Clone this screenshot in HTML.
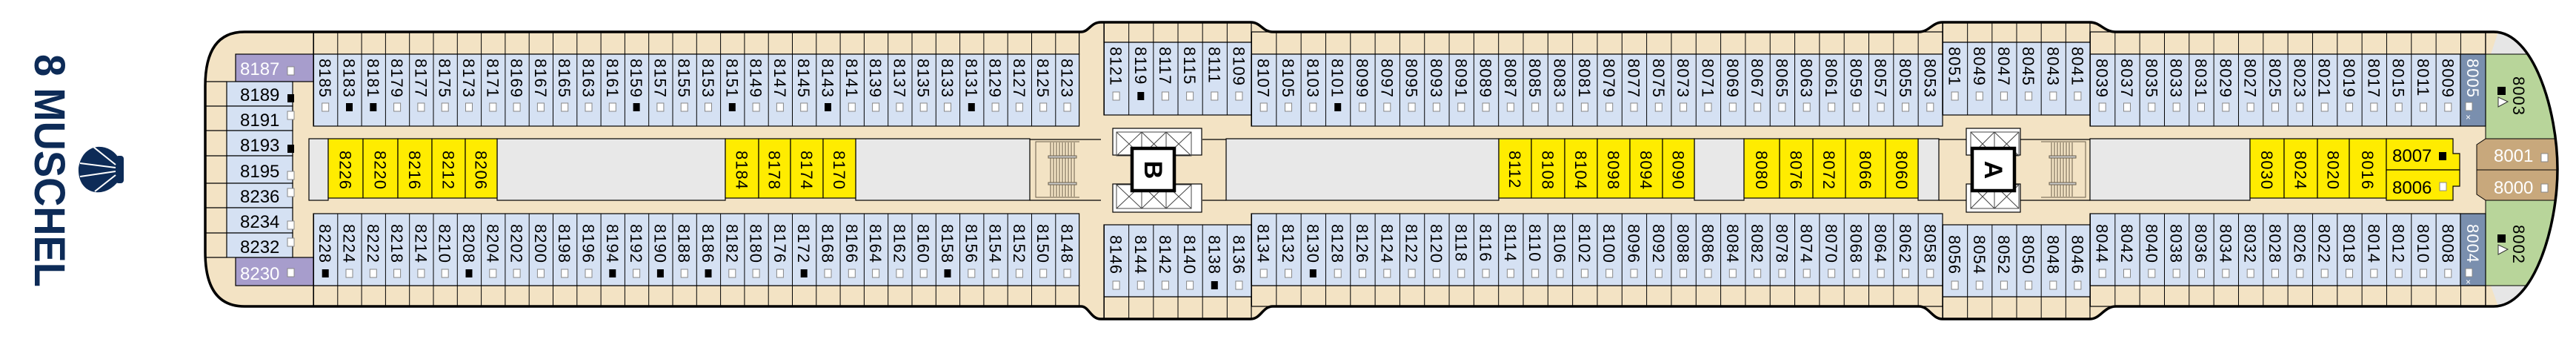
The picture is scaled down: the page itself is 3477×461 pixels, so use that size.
<!DOCTYPE html>
<html><head><meta charset="utf-8"><style>
html,body{margin:0;padding:0;background:#fff}
svg{display:block}
.t text{font-family:"Liberation Sans",sans-serif;font-size:22px;letter-spacing:1px;fill:#000}
.h text{font-family:"Liberation Sans",sans-serif;font-size:24px;fill:#000}
.w{fill:#fff;stroke:#888;stroke-width:1}
.k{fill:#000}
.ln{stroke:#000;stroke-width:1.2}
</style></head><body>
<svg width="3477" height="461" viewBox="0 0 3477 461" xmlns="http://www.w3.org/2000/svg">
<defs>
<pattern id="b1" x="423" y="0" width="32.3" height="20" patternUnits="userSpaceOnUse"><rect width="32.3" height="20" fill="#d5e1f3"/><line x1="0.5" y1="0" x2="0.5" y2="20" stroke="#000"/></pattern>
<pattern id="g1" x="423" y="0" width="32.3" height="20" patternUnits="userSpaceOnUse"><rect width="32.3" height="20" fill="#f3e3c4"/><line x1="0.5" y1="0" x2="0.5" y2="20" stroke="#000"/></pattern>
<pattern id="bB" x="1490" y="0" width="33.17" height="20" patternUnits="userSpaceOnUse"><rect width="33.17" height="20" fill="#d5e1f3"/><line x1="0.5" y1="0" x2="0.5" y2="20" stroke="#000"/></pattern>
<pattern id="gB" x="1490" y="0" width="33.17" height="20" patternUnits="userSpaceOnUse"><rect width="33.17" height="20" fill="#f3e3c4"/><line x1="0.5" y1="0" x2="0.5" y2="20" stroke="#000"/></pattern>
<pattern id="bM" x="1689" y="0" width="33.32" height="20" patternUnits="userSpaceOnUse"><rect width="33.32" height="20" fill="#d5e1f3"/><line x1="0.5" y1="0" x2="0.5" y2="20" stroke="#000"/></pattern>
<pattern id="gM" x="1689" y="0" width="33.32" height="20" patternUnits="userSpaceOnUse"><rect width="33.32" height="20" fill="#f3e3c4"/><line x1="0.5" y1="0" x2="0.5" y2="20" stroke="#000"/></pattern>
<pattern id="bA" x="2622" y="0" width="33.17" height="20" patternUnits="userSpaceOnUse"><rect width="33.17" height="20" fill="#d5e1f3"/><line x1="0.5" y1="0" x2="0.5" y2="20" stroke="#000"/></pattern>
<pattern id="gA" x="2622" y="0" width="33.17" height="20" patternUnits="userSpaceOnUse"><rect width="33.17" height="20" fill="#f3e3c4"/><line x1="0.5" y1="0" x2="0.5" y2="20" stroke="#000"/></pattern>
<pattern id="bR" x="2821" y="0" width="33.33" height="20" patternUnits="userSpaceOnUse"><rect width="33.33" height="20" fill="#d5e1f3"/><line x1="0.5" y1="0" x2="0.5" y2="20" stroke="#000"/></pattern>
<pattern id="gR" x="2821" y="0" width="33.33" height="20" patternUnits="userSpaceOnUse"><rect width="33.33" height="20" fill="#f3e3c4"/><line x1="0.5" y1="0" x2="0.5" y2="20" stroke="#000"/></pattern>
<clipPath id="hull"><path d="M330,43 L1459,43 C1470,43 1472,30 1486,30 L1688,30 C1702,30 1704,43 1718,43 L2590,43 C2604,43 2608,30 2622,30 L2821,30 C2835,30 2840,43 2856,43 L3366,43 C3420,43 3452,150 3452,228 C3452,306 3420,413 3366,413 L2856,413 C2840,413 2835,430 2821,430 L2622,430 C2608,430 2604,413 2590,413 L1718,413 C1704,413 1702,430 1688,430 L1486,430 C1472,430 1470,413 1459,413 L330,413 C292,413 277,385 277,340 L277,116 C277,71 292,43 330,43 Z"/></clipPath>
</defs>

<!-- Logo -->
<text transform="translate(47,73) rotate(90)" y="0" textLength="314" lengthAdjust="spacingAndGlyphs" style="font-family:'Liberation Sans',sans-serif;font-weight:bold;font-size:58px;fill:#0d2b57">8 MUSCHEL</text>
<g fill="#0d2b57">
<path d="M160,213 C148,192 112,190 106,226 C104,262 140,270 160,244 Z"/>
<rect x="156" y="210" width="11" height="37" rx="4"/>
</g>
<g stroke="#fff" stroke-width="2" fill="none">
<path d="M156,222 L126,198"/><path d="M156,226 L108,220"/><path d="M156,231 L108,238"/><path d="M156,236 L128,258"/>
</g>

<!-- Hull -->
<path d="M330,43 L1459,43 C1470,43 1472,30 1486,30 L1688,30 C1702,30 1704,43 1718,43 L2590,43 C2604,43 2608,30 2622,30 L2821,30 C2835,30 2840,43 2856,43 L3366,43 C3420,43 3452,150 3452,228 C3452,306 3420,413 3366,413 L2856,413 C2840,413 2835,430 2821,430 L2622,430 C2608,430 2604,413 2590,413 L1718,413 C1704,413 1702,430 1688,430 L1486,430 C1472,430 1470,413 1459,413 L330,413 C292,413 277,385 277,340 L277,116 C277,71 292,43 330,43 Z" fill="#f3e3c4"/>

<g clip-path="url(#hull)">
<polygon points="3372,43 3362,73 3470,73 3470,43" fill="#e6e6e6"/>
<polygon points="3372,413 3362,385 3470,385 3470,413" fill="#e6e6e6"/>
<rect x="3355" y="73" width="120" height="114" fill="#b8d59a" stroke="#000"/>
<rect x="3355" y="270" width="120" height="115" fill="#b8d59a" stroke="#000"/>
<path d="M3343,195 L3355,187 L3475,187 L3475,270 L3355,270 L3343,262 Z" fill="#c8a87c" stroke="#000"/>
<line x1="3343" y1="229" x2="3475" y2="229" stroke="#000"/>
</g>

<!-- balconies -->
<rect x="423" y="43" width="1033.6" height="30" fill="url(#g1)" class="ln"/>
<rect x="423" y="385" width="1033.6" height="28" fill="url(#g1)" class="ln"/>
<rect x="1490" y="30" width="199" height="27" fill="url(#gB)" class="ln"/>
<rect x="1490" y="400" width="199" height="30" fill="url(#gB)" class="ln"/>
<rect x="1689" y="43" width="933" height="30" fill="url(#gM)" class="ln"/>
<rect x="1689" y="385" width="933" height="28" fill="url(#gM)" class="ln"/>
<rect x="2622" y="30" width="199" height="27" fill="url(#gA)" class="ln"/>
<rect x="2622" y="400" width="199" height="30" fill="url(#gA)" class="ln"/>
<rect x="2821" y="43" width="534" height="30" fill="url(#gR)" class="ln"/>
<rect x="2821" y="385" width="534" height="28" fill="url(#gR)" class="ln"/>

<!-- cabin blocks -->
<rect x="423" y="73" width="1033.6" height="97" fill="url(#b1)" class="ln"/>
<rect x="423" y="288" width="1033.6" height="97" fill="url(#b1)" class="ln"/>
<rect x="1490" y="57" width="199" height="98" fill="url(#bB)" class="ln"/>
<rect x="1490" y="303" width="199" height="97" fill="url(#bB)" class="ln"/>
<rect x="1689" y="73" width="933" height="97" fill="url(#bM)" class="ln"/>
<rect x="1689" y="288" width="933" height="97" fill="url(#bM)" class="ln"/>
<rect x="2622" y="57" width="199" height="98" fill="url(#bA)" class="ln"/>
<rect x="2622" y="303" width="199" height="97" fill="url(#bA)" class="ln"/>
<rect x="2821" y="73" width="500" height="97" fill="url(#bR)" class="ln"/>
<rect x="2821" y="288" width="500" height="97" fill="url(#bR)" class="ln"/>
<rect x="3321" y="73" width="34" height="97" fill="#7a8fae" class="ln"/>
<rect x="3321" y="288" width="34" height="97" fill="#7a8fae" class="ln"/>

<!-- left stern -->
<g class="ln">
<line x1="277" y1="110" x2="306" y2="110"/><line x1="277" y1="143" x2="306" y2="143"/><line x1="277" y1="176" x2="306" y2="176"/><line x1="277" y1="210" x2="306" y2="210"/><line x1="277" y1="247" x2="306" y2="247"/><line x1="277" y1="280" x2="306" y2="280"/><line x1="277" y1="314" x2="306" y2="314"/><line x1="277" y1="347" x2="306" y2="347"/>
</g>
<rect x="318" y="73" width="105" height="37" fill="#a79dcc" class="ln"/>
<rect x="318" y="347" width="105" height="38" fill="#a79dcc" class="ln"/>
<g fill="#d5e1f3" class="ln">
<rect x="306" y="110" width="89" height="33"/><rect x="306" y="143" width="89" height="33"/><rect x="306" y="176" width="89" height="34"/><rect x="306" y="210" width="89" height="37"/><rect x="306" y="247" width="89" height="33"/><rect x="306" y="280" width="89" height="34"/><rect x="306" y="314" width="89" height="33"/>
</g>
<g class="h">
<text x="324" y="101" style="fill:#fff">8187</text>
<text x="324" y="136">8189</text><text x="324" y="170">8191</text><text x="324" y="204">8193</text><text x="324" y="239">8195</text><text x="324" y="273">8236</text><text x="324" y="307">8234</text><text x="324" y="341">8232</text>
<text x="324" y="377" style="fill:#fff">8230</text>
</g>
<rect class="w" x="388" y="90" width="9" height="11"/><rect class="k" x="388" y="127" width="9" height="11"/><rect class="w" x="388" y="150" width="9" height="11"/><rect class="k" x="388" y="195" width="9" height="11"/><rect class="w" x="388" y="231" width="9" height="11"/><rect class="w" x="388" y="254" width="9" height="11"/><rect class="w" x="388" y="298" width="9" height="11"/><rect class="w" x="388" y="321" width="9" height="11"/><rect class="w" x="388" y="362" width="9" height="11"/>

<!-- center blocks -->
<g stroke="#000" stroke-width="1.2">
<rect x="417" y="187" width="26" height="83" fill="#e8e8e8"/>
<rect x="671" y="187" width="308" height="83" fill="#e8e8e8"/>
<rect x="1155" y="187" width="235" height="83" fill="#e8e8e8"/>
<rect x="1655" y="187" width="368" height="83" fill="#e8e8e8"/>
<rect x="2287" y="187" width="67" height="83" fill="#e8e8e8"/>
<rect x="2589" y="187" width="28" height="83" fill="#e8e8e8"/>
<rect x="2821" y="187" width="216" height="83" fill="#e8e8e8"/>
<g fill="#ffec00">
<rect x="443" y="187" width="47" height="80"/><rect x="490" y="187" width="47" height="80"/><rect x="537" y="187" width="46" height="80"/><rect x="583" y="187" width="45" height="80"/><rect x="628" y="187" width="43" height="80"/>
<rect x="979" y="187" width="45" height="80"/><rect x="1024" y="187" width="43" height="80"/><rect x="1067" y="187" width="44" height="80"/><rect x="1111" y="187" width="44" height="80"/>
<rect x="2023" y="187" width="44" height="80"/><rect x="2067" y="187" width="45" height="80"/><rect x="2112" y="187" width="44" height="80"/><rect x="2156" y="187" width="44" height="80"/><rect x="2200" y="187" width="44" height="80"/><rect x="2244" y="187" width="43" height="80"/>
<rect x="2354" y="187" width="48" height="80"/><rect x="2402" y="187" width="45" height="80"/><rect x="2447" y="187" width="44" height="80"/><rect x="2491" y="187" width="54" height="80"/><rect x="2545" y="187" width="44" height="80"/>
<rect x="3037" y="187" width="46" height="80"/><rect x="3083" y="187" width="45" height="80"/><rect x="3128" y="187" width="43" height="80"/><rect x="3171" y="187" width="50" height="80"/>
<path d="M3221,187 L3311,187 L3311,207 L3320,207 L3320,229 L3221,229 Z"/>
<path d="M3221,229 L3320,229 L3320,251 L3311,251 L3311,270 L3221,270 Z"/>
</g>
<line x1="1390" y1="188" x2="1486" y2="188"/><line x1="1390" y1="270" x2="1486" y2="270"/>
<line x1="1623" y1="188" x2="1655" y2="188"/><line x1="1623" y1="270" x2="1655" y2="270"/>
<line x1="2617" y1="188" x2="2654" y2="188"/><line x1="2617" y1="270" x2="2654" y2="270"/>
<line x1="2727" y1="188" x2="2821" y2="188"/><line x1="2727" y1="270" x2="2821" y2="270"/>
</g>

<!-- stairs -->
<g stroke="#6a5e4a" stroke-width="1" fill="none">
<path d="M1457,191 L1398,191 L1398,266 L1457,266"/>
<path d="M1418,192 V265 M1422,192 V265 M1426,192 V265 M1430,192 V265 M1434,192 V265 M1438,192 V265 M1442,192 V265 M1446,192 V265 M1450,192 V265"/>
<rect x="1415" y="210" width="38" height="3" fill="#ccc"/><rect x="1415" y="246" width="38" height="3" fill="#ccc"/>
<path d="M2755,191 L2815,191 L2815,266 L2755,266"/>
<path d="M2769,192 V265 M2773,192 V265 M2777,192 V265 M2781,192 V265 M2785,192 V265 M2789,192 V265 M2793,192 V265 M2797,192 V265"/>
<rect x="2766" y="210" width="36" height="3" fill="#ccc"/><rect x="2766" y="246" width="36" height="3" fill="#ccc"/>
</g>

<!-- elevators -->
<g stroke="#000" stroke-width="1.2" fill="#fff">
<rect x="1502" y="173" width="120" height="36"/><rect x="1502" y="248" width="120" height="38"/>
<rect x="2654" y="173" width="73" height="36"/><rect x="2654" y="248" width="73" height="38"/>
</g>
<g stroke="#444" stroke-width="1" fill="none">
<rect x="1507" y="178" width="101" height="32"/><rect x="1507" y="249" width="101" height="32"/>
<path d="M1541,178 V210 M1574,178 V210 M1541,249 V281 M1574,249 V281"/>
<path d="M1507,178 L1541,210 M1541,178 L1507,210 M1541,178 L1574,210 M1574,178 L1541,210 M1574,178 L1608,210 M1608,178 L1574,210"/>
<path d="M1507,249 L1541,281 M1541,249 L1507,281 M1541,249 L1574,281 M1574,249 L1541,281 M1574,249 L1608,281 M1608,249 L1574,281"/>
<rect x="2660" y="178" width="65" height="32"/><rect x="2660" y="249" width="65" height="32"/>
<path d="M2692,178 V210 M2692,249 V281"/>
<path d="M2660,178 L2692,210 M2692,178 L2660,210 M2692,178 L2725,210 M2725,178 L2692,210"/>
<path d="M2660,249 L2692,281 M2692,249 L2660,281 M2692,249 L2725,281 M2725,249 L2692,281"/>
</g>
<rect x="1528" y="200" width="57" height="57" fill="#fff" stroke="#000" stroke-width="4.5"/>
<rect x="2662" y="200" width="57" height="57" fill="#fff" stroke="#000" stroke-width="4.5"/>
<text transform="translate(1545,229) rotate(90)" y="0" text-anchor="middle" style="font-family:'Liberation Sans',sans-serif;font-size:34px;font-weight:bold">B</text>
<text transform="translate(2679,229) rotate(90)" y="0" text-anchor="middle" style="font-family:'Liberation Sans',sans-serif;font-size:34px;font-weight:bold">A</text>

<!-- labels -->
<g class="t">
<text transform="translate(439.2,79)rotate(90)" y="8">8185</text><text transform="translate(471.5,79)rotate(90)" y="8">8183</text><text transform="translate(503.8,79)rotate(90)" y="8">8181</text><text transform="translate(536.1,79)rotate(90)" y="8">8179</text><text transform="translate(568.4,79)rotate(90)" y="8">8177</text><text transform="translate(600.7,79)rotate(90)" y="8">8175</text><text transform="translate(633,79)rotate(90)" y="8">8173</text><text transform="translate(665.3,79)rotate(90)" y="8">8171</text><text transform="translate(697.6,79)rotate(90)" y="8">8169</text><text transform="translate(729.9,79)rotate(90)" y="8">8167</text><text transform="translate(762.2,79)rotate(90)" y="8">8165</text><text transform="translate(794.5,79)rotate(90)" y="8">8163</text><text transform="translate(826.8,79)rotate(90)" y="8">8161</text><text transform="translate(859.1,79)rotate(90)" y="8">8159</text><text transform="translate(891.4,79)rotate(90)" y="8">8157</text><text transform="translate(923.7,79)rotate(90)" y="8">8155</text><text transform="translate(956,79)rotate(90)" y="8">8153</text><text transform="translate(988.3,79)rotate(90)" y="8">8151</text><text transform="translate(1020.6,79)rotate(90)" y="8">8149</text><text transform="translate(1052.9,79)rotate(90)" y="8">8147</text><text transform="translate(1085.2,79)rotate(90)" y="8">8145</text><text transform="translate(1117.5,79)rotate(90)" y="8">8143</text><text transform="translate(1149.8,79)rotate(90)" y="8">8141</text><text transform="translate(1182.1,79)rotate(90)" y="8">8139</text><text transform="translate(1214.4,79)rotate(90)" y="8">8137</text><text transform="translate(1246.7,79)rotate(90)" y="8">8135</text><text transform="translate(1279,79)rotate(90)" y="8">8133</text><text transform="translate(1311.3,79)rotate(90)" y="8">8131</text><text transform="translate(1343.6,79)rotate(90)" y="8">8129</text><text transform="translate(1375.9,79)rotate(90)" y="8">8127</text><text transform="translate(1408.2,79)rotate(90)" y="8">8125</text><text transform="translate(1440.5,79)rotate(90)" y="8">8123</text>
<text transform="translate(439.2,302)rotate(90)" y="8">8228</text><text transform="translate(471.5,302)rotate(90)" y="8">8224</text><text transform="translate(503.8,302)rotate(90)" y="8">8222</text><text transform="translate(536.1,302)rotate(90)" y="8">8218</text><text transform="translate(568.4,302)rotate(90)" y="8">8214</text><text transform="translate(600.7,302)rotate(90)" y="8">8210</text><text transform="translate(633,302)rotate(90)" y="8">8208</text><text transform="translate(665.3,302)rotate(90)" y="8">8204</text><text transform="translate(697.6,302)rotate(90)" y="8">8202</text><text transform="translate(729.9,302)rotate(90)" y="8">8200</text><text transform="translate(762.2,302)rotate(90)" y="8">8198</text><text transform="translate(794.5,302)rotate(90)" y="8">8196</text><text transform="translate(826.8,302)rotate(90)" y="8">8194</text><text transform="translate(859.1,302)rotate(90)" y="8">8192</text><text transform="translate(891.4,302)rotate(90)" y="8">8190</text><text transform="translate(923.7,302)rotate(90)" y="8">8188</text><text transform="translate(956,302)rotate(90)" y="8">8186</text><text transform="translate(988.3,302)rotate(90)" y="8">8182</text><text transform="translate(1020.6,302)rotate(90)" y="8">8180</text><text transform="translate(1052.9,302)rotate(90)" y="8">8176</text><text transform="translate(1085.2,302)rotate(90)" y="8">8172</text><text transform="translate(1117.5,302)rotate(90)" y="8">8168</text><text transform="translate(1149.8,302)rotate(90)" y="8">8166</text><text transform="translate(1182.1,302)rotate(90)" y="8">8164</text><text transform="translate(1214.4,302)rotate(90)" y="8">8162</text><text transform="translate(1246.7,302)rotate(90)" y="8">8160</text><text transform="translate(1279,302)rotate(90)" y="8">8158</text><text transform="translate(1311.3,302)rotate(90)" y="8">8156</text><text transform="translate(1343.6,302)rotate(90)" y="8">8154</text><text transform="translate(1375.9,302)rotate(90)" y="8">8152</text><text transform="translate(1408.2,302)rotate(90)" y="8">8150</text><text transform="translate(1440.5,302)rotate(90)" y="8">8148</text>
<text transform="translate(1506.6,63)rotate(90)" y="8">8121</text><text transform="translate(1539.8,63)rotate(90)" y="8">8119</text><text transform="translate(1572.9,63)rotate(90)" y="8">8117</text><text transform="translate(1606.1,63)rotate(90)" y="8">8115</text><text transform="translate(1639.3,63)rotate(90)" y="8">8111</text><text transform="translate(1672.4,63)rotate(90)" y="8">8109</text>
<text transform="translate(1506.6,317)rotate(90)" y="8">8146</text><text transform="translate(1539.8,317)rotate(90)" y="8">8144</text><text transform="translate(1572.9,317)rotate(90)" y="8">8142</text><text transform="translate(1606.1,317)rotate(90)" y="8">8140</text><text transform="translate(1639.3,317)rotate(90)" y="8">8138</text><text transform="translate(1672.4,317)rotate(90)" y="8">8136</text>
<text transform="translate(1705.7,79)rotate(90)" y="8">8107</text><text transform="translate(1739,79)rotate(90)" y="8">8105</text><text transform="translate(1772.3,79)rotate(90)" y="8">8103</text><text transform="translate(1805.7,79)rotate(90)" y="8">8101</text><text transform="translate(1839,79)rotate(90)" y="8">8099</text><text transform="translate(1872.3,79)rotate(90)" y="8">8097</text><text transform="translate(1905.6,79)rotate(90)" y="8">8095</text><text transform="translate(1938.9,79)rotate(90)" y="8">8093</text><text transform="translate(1972.3,79)rotate(90)" y="8">8091</text><text transform="translate(2005.6,79)rotate(90)" y="8">8089</text><text transform="translate(2038.9,79)rotate(90)" y="8">8087</text><text transform="translate(2072.2,79)rotate(90)" y="8">8085</text><text transform="translate(2105.5,79)rotate(90)" y="8">8083</text><text transform="translate(2138.9,79)rotate(90)" y="8">8081</text><text transform="translate(2172.2,79)rotate(90)" y="8">8079</text><text transform="translate(2205.5,79)rotate(90)" y="8">8077</text><text transform="translate(2238.8,79)rotate(90)" y="8">8075</text><text transform="translate(2272.1,79)rotate(90)" y="8">8073</text><text transform="translate(2305.5,79)rotate(90)" y="8">8071</text><text transform="translate(2338.8,79)rotate(90)" y="8">8069</text><text transform="translate(2372.1,79)rotate(90)" y="8">8067</text><text transform="translate(2405.4,79)rotate(90)" y="8">8065</text><text transform="translate(2438.7,79)rotate(90)" y="8">8063</text><text transform="translate(2472.1,79)rotate(90)" y="8">8061</text><text transform="translate(2505.4,79)rotate(90)" y="8">8059</text><text transform="translate(2538.7,79)rotate(90)" y="8">8057</text><text transform="translate(2572,79)rotate(90)" y="8">8055</text><text transform="translate(2605.3,79)rotate(90)" y="8">8053</text>
<text transform="translate(1705.7,302)rotate(90)" y="8">8134</text><text transform="translate(1739,302)rotate(90)" y="8">8132</text><text transform="translate(1772.3,302)rotate(90)" y="8">8130</text><text transform="translate(1805.7,302)rotate(90)" y="8">8128</text><text transform="translate(1839,302)rotate(90)" y="8">8126</text><text transform="translate(1872.3,302)rotate(90)" y="8">8124</text><text transform="translate(1905.6,302)rotate(90)" y="8">8122</text><text transform="translate(1938.9,302)rotate(90)" y="8">8120</text><text transform="translate(1972.3,302)rotate(90)" y="8">8118</text><text transform="translate(2005.6,302)rotate(90)" y="8">8116</text><text transform="translate(2038.9,302)rotate(90)" y="8">8114</text><text transform="translate(2072.2,302)rotate(90)" y="8">8110</text><text transform="translate(2105.5,302)rotate(90)" y="8">8106</text><text transform="translate(2138.9,302)rotate(90)" y="8">8102</text><text transform="translate(2172.2,302)rotate(90)" y="8">8100</text><text transform="translate(2205.5,302)rotate(90)" y="8">8096</text><text transform="translate(2238.8,302)rotate(90)" y="8">8092</text><text transform="translate(2272.1,302)rotate(90)" y="8">8088</text><text transform="translate(2305.5,302)rotate(90)" y="8">8086</text><text transform="translate(2338.8,302)rotate(90)" y="8">8084</text><text transform="translate(2372.1,302)rotate(90)" y="8">8082</text><text transform="translate(2405.4,302)rotate(90)" y="8">8078</text><text transform="translate(2438.7,302)rotate(90)" y="8">8074</text><text transform="translate(2472.1,302)rotate(90)" y="8">8070</text><text transform="translate(2505.4,302)rotate(90)" y="8">8068</text><text transform="translate(2538.7,302)rotate(90)" y="8">8064</text><text transform="translate(2572,302)rotate(90)" y="8">8062</text><text transform="translate(2605.3,302)rotate(90)" y="8">8058</text>
<text transform="translate(2638.6,63)rotate(90)" y="8">8051</text><text transform="translate(2671.8,63)rotate(90)" y="8">8049</text><text transform="translate(2704.9,63)rotate(90)" y="8">8047</text><text transform="translate(2738.1,63)rotate(90)" y="8">8045</text><text transform="translate(2771.3,63)rotate(90)" y="8">8043</text><text transform="translate(2804.4,63)rotate(90)" y="8">8041</text>
<text transform="translate(2638.6,317)rotate(90)" y="8">8056</text><text transform="translate(2671.8,317)rotate(90)" y="8">8054</text><text transform="translate(2704.9,317)rotate(90)" y="8">8052</text><text transform="translate(2738.1,317)rotate(90)" y="8">8050</text><text transform="translate(2771.3,317)rotate(90)" y="8">8048</text><text transform="translate(2804.4,317)rotate(90)" y="8">8046</text>
<text transform="translate(2837.7,79)rotate(90)" y="8">8039</text><text transform="translate(2871,79)rotate(90)" y="8">8037</text><text transform="translate(2904.3,79)rotate(90)" y="8">8035</text><text transform="translate(2937.7,79)rotate(90)" y="8">8033</text><text transform="translate(2971,79)rotate(90)" y="8">8031</text><text transform="translate(3004.3,79)rotate(90)" y="8">8029</text><text transform="translate(3037.7,79)rotate(90)" y="8">8027</text><text transform="translate(3071,79)rotate(90)" y="8">8025</text><text transform="translate(3104.3,79)rotate(90)" y="8">8023</text><text transform="translate(3137.7,79)rotate(90)" y="8">8021</text><text transform="translate(3171,79)rotate(90)" y="8">8019</text><text transform="translate(3204.3,79)rotate(90)" y="8">8017</text><text transform="translate(3237.7,79)rotate(90)" y="8">8015</text><text transform="translate(3271,79)rotate(90)" y="8">8011</text><text transform="translate(3304.3,79)rotate(90)" y="8">8009</text>
<text transform="translate(2837.7,302)rotate(90)" y="8">8044</text><text transform="translate(2871,302)rotate(90)" y="8">8042</text><text transform="translate(2904.3,302)rotate(90)" y="8">8040</text><text transform="translate(2937.7,302)rotate(90)" y="8">8038</text><text transform="translate(2971,302)rotate(90)" y="8">8036</text><text transform="translate(3004.3,302)rotate(90)" y="8">8034</text><text transform="translate(3037.7,302)rotate(90)" y="8">8032</text><text transform="translate(3071,302)rotate(90)" y="8">8028</text><text transform="translate(3104.3,302)rotate(90)" y="8">8026</text><text transform="translate(3137.7,302)rotate(90)" y="8">8022</text><text transform="translate(3171,302)rotate(90)" y="8">8018</text><text transform="translate(3204.3,302)rotate(90)" y="8">8014</text><text transform="translate(3237.7,302)rotate(90)" y="8">8012</text><text transform="translate(3271,302)rotate(90)" y="8">8010</text><text transform="translate(3304.3,302)rotate(90)" y="8">8008</text>
<text transform="translate(3338,79)rotate(90)" y="8" style="fill:#fff">8005</text>
<text transform="translate(3338,302)rotate(90)" y="8" style="fill:#fff">8004</text>
<text transform="translate(3400,103)rotate(90)" y="8">8003</text>
<text transform="translate(3400,303)rotate(90)" y="8">8002</text>
<text transform="translate(466.5,203)rotate(90)" y="8">8226</text><text transform="translate(513.5,203)rotate(90)" y="8">8220</text><text transform="translate(560,203)rotate(90)" y="8">8216</text><text transform="translate(605.5,203)rotate(90)" y="8">8212</text><text transform="translate(649.5,203)rotate(90)" y="8">8206</text>
<text transform="translate(1001.5,203)rotate(90)" y="8">8184</text><text transform="translate(1045.5,203)rotate(90)" y="8">8178</text><text transform="translate(1089,203)rotate(90)" y="8">8174</text><text transform="translate(1133,203)rotate(90)" y="8">8170</text>
<text transform="translate(2045,203)rotate(90)" y="8">8112</text><text transform="translate(2089.5,203)rotate(90)" y="8">8108</text><text transform="translate(2134,203)rotate(90)" y="8">8104</text><text transform="translate(2178,203)rotate(90)" y="8">8098</text><text transform="translate(2222,203)rotate(90)" y="8">8094</text><text transform="translate(2265.5,203)rotate(90)" y="8">8090</text>
<text transform="translate(2378,203)rotate(90)" y="8">8080</text><text transform="translate(2424.5,203)rotate(90)" y="8">8076</text><text transform="translate(2469,203)rotate(90)" y="8">8072</text><text transform="translate(2518,203)rotate(90)" y="8">8066</text><text transform="translate(2567,203)rotate(90)" y="8">8060</text>
<text transform="translate(3060,203)rotate(90)" y="8">8030</text><text transform="translate(3105.5,203)rotate(90)" y="8">8024</text><text transform="translate(3149.5,203)rotate(90)" y="8">8020</text><text transform="translate(3196,203)rotate(90)" y="8">8016</text>
</g>
<g class="h">
<text x="3229" y="218">8007</text><text x="3229" y="261">8006</text>
<text x="3366" y="218" style="fill:#fff">8001</text><text x="3366" y="261" style="fill:#fff">8000</text>
</g>

<g class="w">
<rect x="434.7" y="139" width="9" height="11"/><rect x="531.6" y="139" width="9" height="11"/><rect x="563.9" y="139" width="9" height="11"/><rect x="596.2" y="139" width="9" height="11"/><rect x="628.5" y="139" width="9" height="11"/><rect x="660.8" y="139" width="9" height="11"/><rect x="693.1" y="139" width="9" height="11"/><rect x="725.4" y="139" width="9" height="11"/><rect x="757.7" y="139" width="9" height="11"/><rect x="790" y="139" width="9" height="11"/><rect x="822.3" y="139" width="9" height="11"/><rect x="886.9" y="139" width="9" height="11"/><rect x="919.2" y="139" width="9" height="11"/><rect x="951.5" y="139" width="9" height="11"/><rect x="1016.1" y="139" width="9" height="11"/><rect x="1048.4" y="139" width="9" height="11"/><rect x="1080.7" y="139" width="9" height="11"/><rect x="1145.3" y="139" width="9" height="11"/><rect x="1177.6" y="139" width="9" height="11"/><rect x="1209.9" y="139" width="9" height="11"/><rect x="1242.2" y="139" width="9" height="11"/><rect x="1274.5" y="139" width="9" height="11"/><rect x="1339.1" y="139" width="9" height="11"/><rect x="1371.4" y="139" width="9" height="11"/><rect x="1403.7" y="139" width="9" height="11"/><rect x="1436" y="139" width="9" height="11"/>
</g>
<g class="k">
<rect x="467" y="139" width="9" height="11"/><rect x="499.3" y="139" width="9" height="11"/><rect x="854.6" y="139" width="9" height="11"/><rect x="983.8" y="139" width="9" height="11"/><rect x="1113" y="139" width="9" height="11"/><rect x="1306.8" y="139" width="9" height="11"/>
</g>
<g class="w">
<rect x="467" y="363" width="9" height="11"/><rect x="499.3" y="363" width="9" height="11"/><rect x="531.6" y="363" width="9" height="11"/><rect x="563.9" y="363" width="9" height="11"/><rect x="596.2" y="363" width="9" height="11"/><rect x="660.8" y="363" width="9" height="11"/><rect x="693.1" y="363" width="9" height="11"/><rect x="725.4" y="363" width="9" height="11"/><rect x="757.7" y="363" width="9" height="11"/><rect x="790" y="363" width="9" height="11"/><rect x="854.6" y="363" width="9" height="11"/><rect x="919.2" y="363" width="9" height="11"/><rect x="983.8" y="363" width="9" height="11"/><rect x="1016.1" y="363" width="9" height="11"/><rect x="1048.4" y="363" width="9" height="11"/><rect x="1113" y="363" width="9" height="11"/><rect x="1145.3" y="363" width="9" height="11"/><rect x="1177.6" y="363" width="9" height="11"/><rect x="1209.9" y="363" width="9" height="11"/><rect x="1242.2" y="363" width="9" height="11"/><rect x="1306.8" y="363" width="9" height="11"/><rect x="1339.1" y="363" width="9" height="11"/><rect x="1371.4" y="363" width="9" height="11"/><rect x="1403.7" y="363" width="9" height="11"/><rect x="1436" y="363" width="9" height="11"/>
</g>
<g class="k">
<rect x="434.7" y="363" width="9" height="11"/><rect x="628.5" y="363" width="9" height="11"/><rect x="822.3" y="363" width="9" height="11"/><rect x="886.9" y="363" width="9" height="11"/><rect x="951.5" y="363" width="9" height="11"/><rect x="1080.7" y="363" width="9" height="11"/><rect x="1274.5" y="363" width="9" height="11"/>
</g>
<g class="w">
<rect x="1502.1" y="124" width="9" height="11"/><rect x="1568.4" y="124" width="9" height="11"/><rect x="1601.6" y="124" width="9" height="11"/><rect x="1634.8" y="124" width="9" height="11"/><rect x="1667.9" y="124" width="9" height="11"/>
<rect x="1502.1" y="379" width="9" height="11"/><rect x="1535.3" y="379" width="9" height="11"/><rect x="1568.4" y="379" width="9" height="11"/><rect x="1601.6" y="379" width="9" height="11"/><rect x="1667.9" y="379" width="9" height="11"/>
<rect x="2634.1" y="124" width="9" height="11"/><rect x="2667.3" y="124" width="9" height="11"/><rect x="2700.4" y="124" width="9" height="11"/><rect x="2733.6" y="124" width="9" height="11"/><rect x="2766.8" y="124" width="9" height="11"/><rect x="2799.9" y="124" width="9" height="11"/>
<rect x="2634.1" y="379" width="9" height="11"/><rect x="2667.3" y="379" width="9" height="11"/><rect x="2700.4" y="379" width="9" height="11"/><rect x="2733.6" y="379" width="9" height="11"/><rect x="2766.8" y="379" width="9" height="11"/><rect x="2799.9" y="379" width="9" height="11"/>
</g>
<g class="k"><rect x="1535.3" y="124" width="9" height="11"/><rect x="1634.8" y="379" width="9" height="11"/></g>
<g class="w">
<rect x="1701.2" y="139" width="9" height="11"/><rect x="1734.5" y="139" width="9" height="11"/><rect x="1767.8" y="139" width="9" height="11"/><rect x="1834.5" y="139" width="9" height="11"/><rect x="1867.8" y="139" width="9" height="11"/><rect x="1901.1" y="139" width="9" height="11"/><rect x="1934.4" y="139" width="9" height="11"/><rect x="1967.8" y="139" width="9" height="11"/><rect x="2001.1" y="139" width="9" height="11"/><rect x="2034.4" y="139" width="9" height="11"/><rect x="2067.7" y="139" width="9" height="11"/><rect x="2101" y="139" width="9" height="11"/><rect x="2134.4" y="139" width="9" height="11"/><rect x="2167.7" y="139" width="9" height="11"/><rect x="2201" y="139" width="9" height="11"/><rect x="2234.3" y="139" width="9" height="11"/><rect x="2267.6" y="139" width="9" height="11"/><rect x="2301" y="139" width="9" height="11"/><rect x="2334.3" y="139" width="9" height="11"/><rect x="2367.6" y="139" width="9" height="11"/><rect x="2400.9" y="139" width="9" height="11"/><rect x="2434.2" y="139" width="9" height="11"/><rect x="2467.6" y="139" width="9" height="11"/><rect x="2500.9" y="139" width="9" height="11"/><rect x="2534.2" y="139" width="9" height="11"/><rect x="2567.5" y="139" width="9" height="11"/><rect x="2600.8" y="139" width="9" height="11"/>
<rect x="1701.2" y="363" width="9" height="11"/><rect x="1734.5" y="363" width="9" height="11"/><rect x="1801.2" y="363" width="9" height="11"/><rect x="1834.5" y="363" width="9" height="11"/><rect x="1867.8" y="363" width="9" height="11"/><rect x="1901.1" y="363" width="9" height="11"/><rect x="1934.4" y="363" width="9" height="11"/><rect x="1967.8" y="363" width="9" height="11"/><rect x="2001.1" y="363" width="9" height="11"/><rect x="2034.4" y="363" width="9" height="11"/><rect x="2067.7" y="363" width="9" height="11"/><rect x="2101" y="363" width="9" height="11"/><rect x="2134.4" y="363" width="9" height="11"/><rect x="2167.7" y="363" width="9" height="11"/><rect x="2201" y="363" width="9" height="11"/><rect x="2234.3" y="363" width="9" height="11"/><rect x="2267.6" y="363" width="9" height="11"/><rect x="2301" y="363" width="9" height="11"/><rect x="2334.3" y="363" width="9" height="11"/><rect x="2367.6" y="363" width="9" height="11"/><rect x="2400.9" y="363" width="9" height="11"/><rect x="2434.2" y="363" width="9" height="11"/><rect x="2467.6" y="363" width="9" height="11"/><rect x="2500.9" y="363" width="9" height="11"/><rect x="2534.2" y="363" width="9" height="11"/><rect x="2567.5" y="363" width="9" height="11"/><rect x="2600.8" y="363" width="9" height="11"/>
</g>
<g class="k"><rect x="1801.2" y="139" width="9" height="11"/><rect x="1767.8" y="363" width="9" height="11"/></g>
<g class="w">
<rect x="2833.2" y="139" width="9" height="11"/><rect x="2866.5" y="139" width="9" height="11"/><rect x="2899.8" y="139" width="9" height="11"/><rect x="2933.2" y="139" width="9" height="11"/><rect x="2966.5" y="139" width="9" height="11"/><rect x="2999.8" y="139" width="9" height="11"/><rect x="3033.2" y="139" width="9" height="11"/><rect x="3066.5" y="139" width="9" height="11"/><rect x="3099.8" y="139" width="9" height="11"/><rect x="3133.2" y="139" width="9" height="11"/><rect x="3166.5" y="139" width="9" height="11"/><rect x="3199.8" y="139" width="9" height="11"/><rect x="3233.2" y="139" width="9" height="11"/><rect x="3266.5" y="139" width="9" height="11"/><rect x="3299.8" y="139" width="9" height="11"/>
<rect x="2833.2" y="363" width="9" height="11"/><rect x="2866.5" y="363" width="9" height="11"/><rect x="2899.8" y="363" width="9" height="11"/><rect x="2933.2" y="363" width="9" height="11"/><rect x="2966.5" y="363" width="9" height="11"/><rect x="2999.8" y="363" width="9" height="11"/><rect x="3033.2" y="363" width="9" height="11"/><rect x="3066.5" y="363" width="9" height="11"/><rect x="3099.8" y="363" width="9" height="11"/><rect x="3133.2" y="363" width="9" height="11"/><rect x="3166.5" y="363" width="9" height="11"/><rect x="3199.8" y="363" width="9" height="11"/><rect x="3233.2" y="363" width="9" height="11"/><rect x="3266.5" y="363" width="9" height="11"/><rect x="3299.8" y="363" width="9" height="11"/>
<rect x="3328" y="138" width="9" height="11"/><rect x="3328" y="362" width="9" height="11"/>
<rect x="3293" y="246" width="9" height="11"/>
<rect x="3430" y="207" width="9" height="11"/><rect x="3430" y="248" width="9" height="11"/>
</g>
<g class="k">
<rect x="3292" y="205" width="10" height="11"/>
<rect x="3371" y="117" width="11" height="11"/><rect x="3371" y="316" width="11" height="11"/>
</g>
<polygon points="3372,131 3372,144 3385,137" fill="#fff" stroke="#333"/>
<polygon points="3372,330 3372,343 3385,336" fill="#fff" stroke="#333"/>
<g style="font-family:'Liberation Sans',sans-serif;font-size:12px;fill:#fff">
<text x="3328" y="162">×</text><text x="3328" y="384">×</text>
</g>

<path d="M330,43 L1459,43 C1470,43 1472,30 1486,30 L1688,30 C1702,30 1704,43 1718,43 L2590,43 C2604,43 2608,30 2622,30 L2821,30 C2835,30 2840,43 2856,43 L3366,43 C3420,43 3452,150 3452,228 C3452,306 3420,413 3366,413 L2856,413 C2840,413 2835,430 2821,430 L2622,430 C2608,430 2604,413 2590,413 L1718,413 C1704,413 1702,430 1688,430 L1486,430 C1472,430 1470,413 1459,413 L330,413 C292,413 277,385 277,340 L277,116 C277,71 292,43 330,43 Z" fill="none" stroke="#000" stroke-width="3.5"/>
</svg>
</body></html>
